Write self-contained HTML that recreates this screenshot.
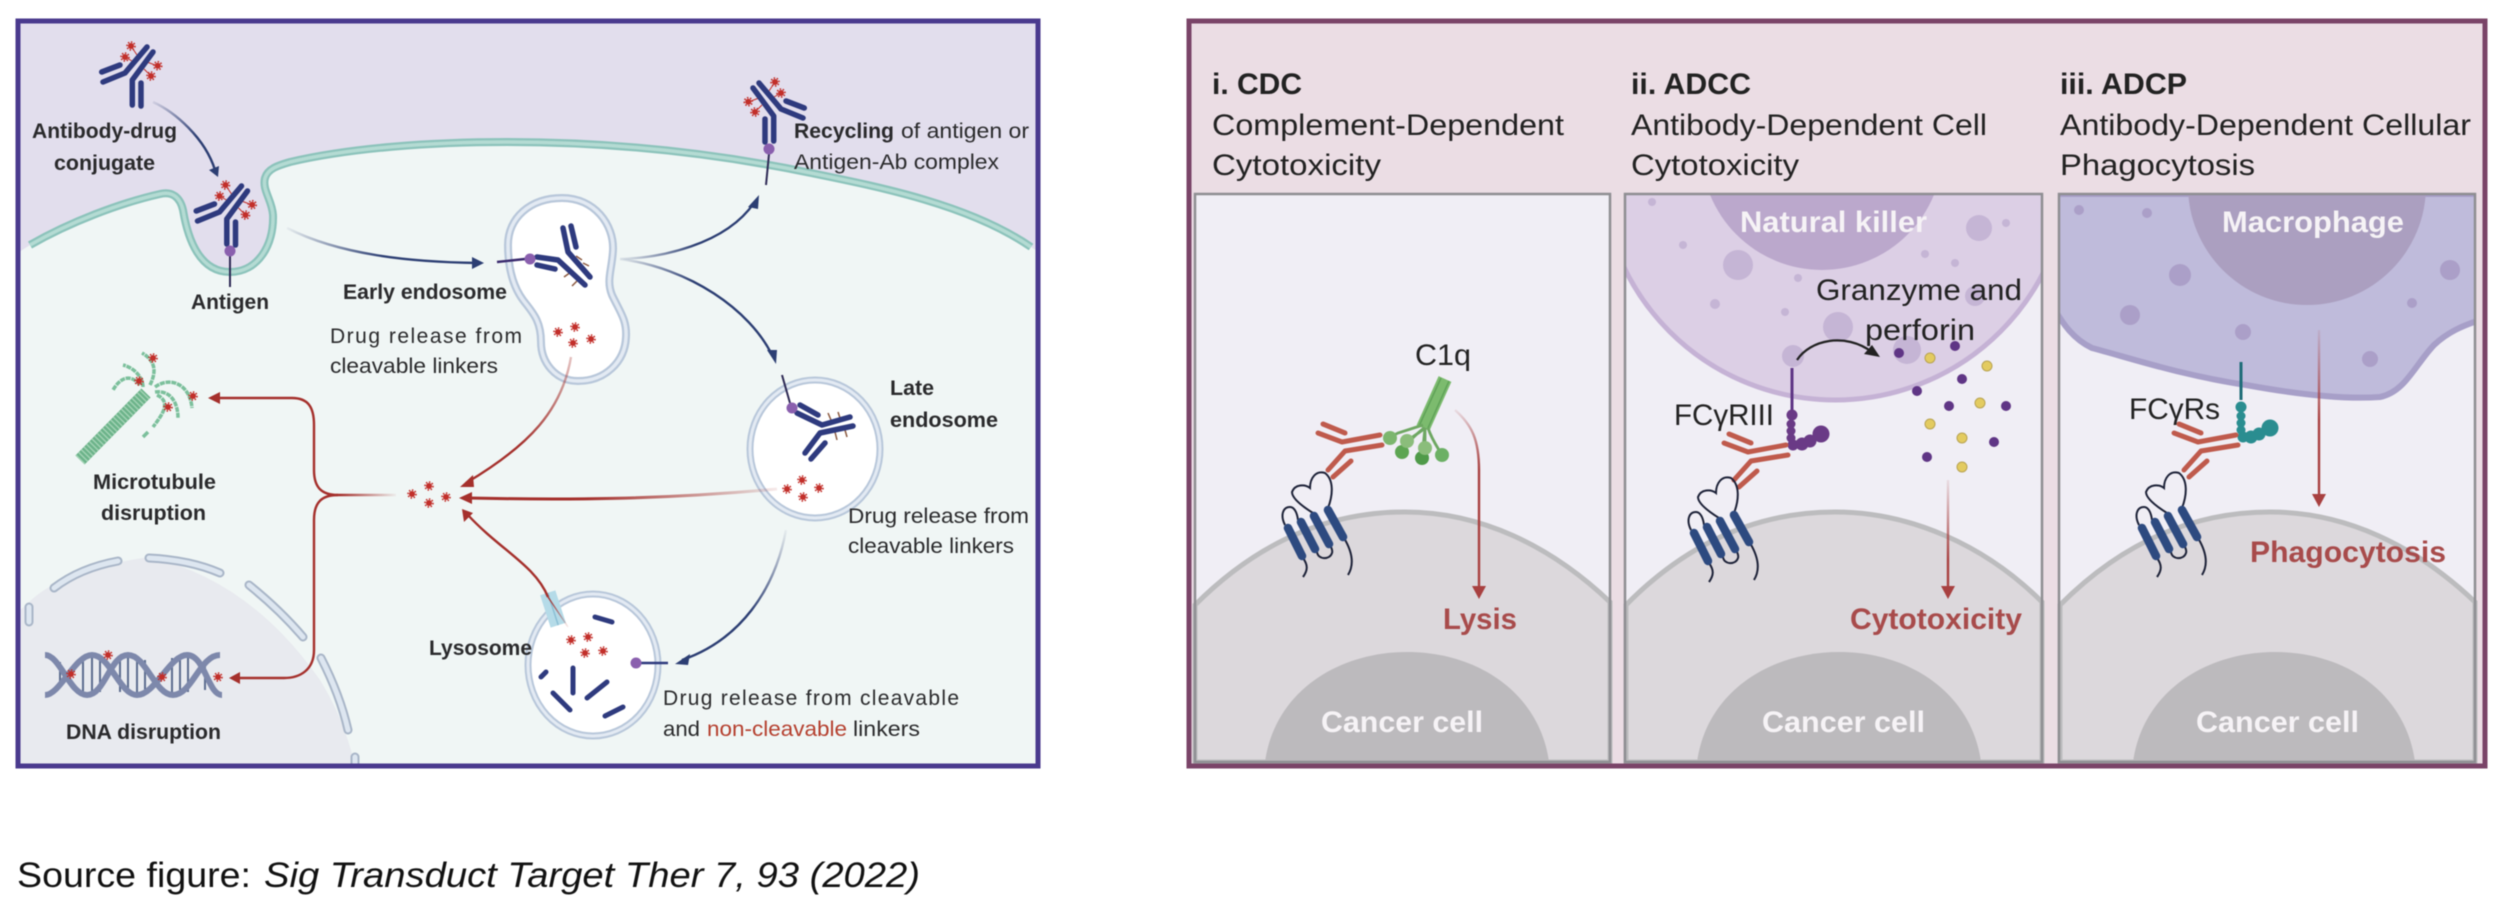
<!DOCTYPE html>
<html><head><meta charset="utf-8"><style>
html,body{margin:0;padding:0;background:#fff;width:2500px;height:920px;overflow:hidden}
svg{display:block;filter:blur(.4px)}
text{font-family:"Liberation Sans",sans-serif;fill:#2a2a2c}
.b{font-weight:700}
.l{font-size:21px}
.h{font-size:30px;fill:#222}
.w{font-size:30px;font-weight:700;fill:#f6f3f6}
.r{font-size:30px;font-weight:700;fill:#a84b4b}
</style></head><body>
<svg xmlns="http://www.w3.org/2000/svg" width="2500" height="920" viewBox="0 0 2500 920">
<defs>
<clipPath id="cl"><rect x="18" y="21" width="1020" height="745"/></clipPath>
<clipPath id="p2"><rect x="1625" y="194" width="417" height="568"/></clipPath>
<clipPath id="p3"><rect x="2059" y="194" width="416" height="568"/></clipPath>
<g id="ab" fill="none" stroke="#2e3a7e" stroke-width="5.5" stroke-linecap="round" stroke-linejoin="round">
<path d="M-34,2L-12,-7L10,-33"/>
<path d="M-4.7,25V0L16,-28"/>
<path d="M4,3V26"/>
<path d="M-35.3,-8L-17,-15"/>
</g>
<g id="dr"><circle r="3" fill="#c22f2a"/><circle r="4" fill="none" stroke="#c22f2a" stroke-width="1.6" stroke-dasharray="1.5 1.6"/></g>
<g id="drugs">
<path d="M-12,-23L-5,-19M-6,-34L2,-22M20.7,-14L10,-18M14,-4L7,-11" stroke="#c22f2a" stroke-width="1" fill="none"/>
<use href="#dr" x="-6" y="-34"/><use href="#dr" x="-12" y="-23"/><use href="#dr" x="20.7" y="-14.3"/><use href="#dr" x="14" y="-4"/></g>
<g id="adc"><use href="#drugs"/><use href="#ab"/></g>
<g id="red" fill="none" stroke="#bf5a4c" stroke-width="5" stroke-linecap="round" stroke-linejoin="round">
<path d="M1323,424L1345,433M1318,433L1342,442L1380,435M1382,445L1345,451L1328,470M1333,477L1351,461"/>
</g>
<g id="prot">
<path d="M1328,508C1333,495 1334,480 1325,473C1316,470 1310,478 1310,488C1305,484 1295,484 1292,492C1292,499 1305,508 1313,513M1285,525C1280,515 1283,507 1290,507C1294,507 1297,512 1298,520M1317,552C1318,560 1330,560 1332,553C1333,550 1331,547 1330,545M1303,558C1308,565 1308,570 1303,577M1344,538C1350,548 1356,562 1348,575" fill="none" stroke="#1d2238" stroke-width="2"/>
<g stroke="#2d4a80" stroke-width="8.5" stroke-linecap="round" fill="none">
<path d="M1288,528L1302,556M1301,522L1315,549M1314,516L1329,544M1328,510L1343,537"/>
</g></g>
<linearGradient id="g1" gradientUnits="userSpaceOnUse" x1="287" y1="228" x2="483" y2="263"><stop offset="0" stop-color="#2c3e73" stop-opacity=".05"/><stop offset=".5" stop-color="#2c3e73"/></linearGradient>
<linearGradient id="g2" gradientUnits="userSpaceOnUse" x1="620" y1="259" x2="757" y2="197"><stop offset="0" stop-color="#2c3e73" stop-opacity=".05"/><stop offset=".5" stop-color="#2c3e73"/></linearGradient>
<linearGradient id="g3" gradientUnits="userSpaceOnUse" x1="620" y1="259" x2="774" y2="362"><stop offset="0" stop-color="#2c3e73" stop-opacity=".05"/><stop offset=".4" stop-color="#2c3e73"/></linearGradient>
<linearGradient id="g4" gradientUnits="userSpaceOnUse" x1="786" y1="530" x2="676" y2="663"><stop offset="0" stop-color="#2c3e73" stop-opacity=".05"/><stop offset=".5" stop-color="#2c3e73"/></linearGradient>
<linearGradient id="g5" gradientUnits="userSpaceOnUse" x1="153" y1="102" x2="215" y2="170"><stop offset="0" stop-color="#2c3e73" stop-opacity=".1"/><stop offset=".6" stop-color="#2c3e73"/></linearGradient>
<linearGradient id="r1" gradientUnits="userSpaceOnUse" x1="571" y1="357" x2="463" y2="485"><stop offset="0" stop-color="#a5302c" stop-opacity=".3"/><stop offset=".6" stop-color="#a5302c"/></linearGradient>
<linearGradient id="r2" gradientUnits="userSpaceOnUse" x1="777" y1="490" x2="461" y2="498"><stop offset="0" stop-color="#a5302c" stop-opacity=".1"/><stop offset=".6" stop-color="#a5302c"/></linearGradient>
<linearGradient id="r3" gradientUnits="userSpaceOnUse" x1="396" y1="495" x2="340" y2="495"><stop offset="0" stop-color="#a5302c" stop-opacity=".05"/><stop offset="1" stop-color="#a5302c"/></linearGradient>
<linearGradient id="r4" gradientUnits="userSpaceOnUse" x1="1455" y1="410" x2="1479" y2="470"><stop offset="0" stop-color="#a84040" stop-opacity=".1"/><stop offset="1" stop-color="#a84040"/></linearGradient>
<linearGradient id="r5" gradientUnits="userSpaceOnUse" x1="0" y1="480" x2="0" y2="560"><stop offset="0" stop-color="#a84040" stop-opacity=".1"/><stop offset="1" stop-color="#a84040"/></linearGradient>
<linearGradient id="r6" gradientUnits="userSpaceOnUse" x1="0" y1="330" x2="0" y2="420"><stop offset="0" stop-color="#a84040" stop-opacity=".1"/><stop offset="1" stop-color="#a84040"/></linearGradient>
<linearGradient id="r7" gradientUnits="userSpaceOnUse" x1="568" y1="627" x2="548" y2="597"><stop offset="0" stop-color="#a5302c" stop-opacity=".1"/><stop offset="1" stop-color="#a5302c"/></linearGradient>
</defs>

<!-- LEFT PANEL -->
<rect x="16" y="21" width="1024" height="747" fill="#e2deed"/>
<g clip-path="url(#cl)">
<path d="M10,258L30,245C70,222 120,203 160,194C172,191 180,197 183,210C188,240 200,272 230,272C258,272 274,245 273,215C272,200 262,190 265,178C268,168 280,165 290,162C350,148 430,142 507,142C600,142 700,150 811,173C880,187 970,205 1031,247L1045,256V780H10Z" fill="#f0f6f5"/>
<path d="M27,604Q60,570 149,557Q250,580 320,680Q345,720 356,770H18V612Z" fill="#e8eaef"/>
<g fill="none" stroke-linecap="round">
<path d="M54,588Q80,568 118,561M149,558Q190,560 220,573M249,585Q280,610 303,637M321,658Q340,695 348,730M29,607V622M355,757V768" stroke="#a9b6c8" stroke-width="9"/>
<path d="M54,588Q80,568 118,561M149,558Q190,560 220,573M249,585Q280,610 303,637M321,658Q340,695 348,730M29,607V622M355,757V768" stroke="#dde6f0" stroke-width="5"/>
</g>
<path d="M30,245C70,222 120,203 160,194C172,191 180,197 183,210C188,240 200,272 230,272C258,272 274,245 273,215C272,200 262,190 265,178C268,168 280,165 290,162C350,148 430,142 507,142C600,142 700,150 811,173C880,187 970,205 1031,247" fill="none" stroke="#8cc3bb" stroke-width="8"/>
<path d="M30,245C70,222 120,203 160,194C172,191 180,197 183,210C188,240 200,272 230,272C258,272 274,245 273,215C272,200 262,190 265,178C268,168 280,165 290,162C350,148 430,142 507,142C600,142 700,150 811,173C880,187 970,205 1031,247" fill="none" stroke="#b4dbd3" stroke-width="3.5"/>
</g>
<rect x="18" y="21" width="1020" height="745" fill="none" stroke="#4a3a8e" stroke-width="5"/>

<!-- ADCs -->
<use href="#adc" x="137" y="80"/>
<path d="M230,256V287" stroke="#2e2a55" stroke-width="2"/>
<use href="#adc" x="231.5" y="219"/>
<circle cx="230" cy="251" r="5.5" fill="#8a5fae"/>
<path d="M769,154L766,185" stroke="#2e2a55" stroke-width="2"/>
<use href="#adc" transform="translate(769,116) scale(-1,1)"/>
<circle cx="769" cy="149" r="5.5" fill="#8a5fae"/>

<!-- dark arrows -->
<g fill="none" stroke-width="2.4">
<path d="M153,102C175,112 205,138 215,170" stroke="url(#g5)"/>
<path d="M287,228C340,255 410,262 478,263" stroke="url(#g1)"/>
<path d="M620,259C660,258 725,245 754,203" stroke="url(#g2)"/>
<path d="M620,259C690,268 750,310 772,355" stroke="url(#g3)"/>
<path d="M786,530C775,590 740,640 682,660" stroke="url(#g4)"/>
</g>
<g fill="#2c3e73">
<path d="M218,177L209,170L219,166Z"/>
<path d="M484,263L472,257V269Z"/>
<path d="M759,195L748,207L758,209Z"/>
<path d="M776,364L767,350L777,350Z"/>
<path d="M675,664L690,654L688,665Z"/>
</g>

<!-- early endosome -->
<path d="M562,198C595,198 614,225 613,250C612,270 606,280 612,295C620,312 627,320 626,337C625,362 605,381 578,381C555,381 541,362 541,342C541,320 532,312 523,300C512,285 508,265 508,245C508,218 530,198 562,198Z" fill="#fff" stroke="#b8c7da" stroke-width="8"/>
<path d="M562,198C595,198 614,225 613,250C612,270 606,280 612,295C620,312 627,320 626,337C625,362 605,381 578,381C555,381 541,362 541,342C541,320 532,312 523,300C512,285 508,265 508,245C508,218 530,198 562,198Z" fill="none" stroke="#e3eaf3" stroke-width="3.5"/>
<path d="M564,277L571,272M572,286L578,280M576,256L582,260M583,263L589,266" stroke="#8c5a40" stroke-width="1.5"/>
<path d="M563,228L568,252L590,277M571,226L576,247M537,257L558,260L585,285M537,265L555,269" fill="none" stroke="#2e3a7e" stroke-width="5.5" stroke-linecap="round" stroke-linejoin="round"/>
<path d="M497,262L525,259" stroke="#3a2a6e" stroke-width="2.4"/>
<circle cx="530" cy="259" r="5.5" fill="#8a5fae"/>
<use href="#dr" x="558" y="332"/><use href="#dr" x="575" y="327"/><use href="#dr" x="573" y="343"/><use href="#dr" x="591" y="339"/>

<!-- late endosome -->
<ellipse cx="815" cy="449" rx="65" ry="69" fill="#fff" stroke="#b8c7da" stroke-width="7"/>
<ellipse cx="815" cy="449" rx="65" ry="69" fill="none" stroke="#e3eaf3" stroke-width="3"/>
<path d="M782,375L790,403" stroke="#2e2a55" stroke-width="2"/>
<path d="M828,413L831,420M838,412L840,418M835,432L837,440M845,430L847,437" stroke="#8c5a40" stroke-width="1.5"/>
<path d="M800,405L818,415M797,413L822,425L850,417M853,426L820,433L805,453M825,443L811,459" fill="none" stroke="#2e3a7e" stroke-width="5.5" stroke-linecap="round" stroke-linejoin="round"/>
<circle cx="792" cy="408" r="5.5" fill="#8a5fae"/>
<use href="#dr" x="787" y="489"/><use href="#dr" x="802" y="480"/><use href="#dr" x="819" y="488"/><use href="#dr" x="803" y="497"/>

<!-- lysosome -->
<ellipse cx="593" cy="665" rx="65" ry="71" fill="#fff" stroke="#b8c7da" stroke-width="7"/>
<ellipse cx="593" cy="665" rx="65" ry="71" fill="none" stroke="#e3eaf3" stroke-width="3"/>
<g transform="translate(553,609) rotate(-18)"><rect x="-8" y="-17" width="16" height="34" fill="#b5dbe8"/><path d="M0,-17V17" stroke="#8cc0d5" stroke-width="1.5"/></g>
<g stroke="#2e3a7e" stroke-width="5" stroke-linecap="round">
<path d="M595,617L612,622M546,672L541,677M573,668V693M607,682L587,698M553,693L570,710M623,707L605,716"/>
</g>
<use href="#dr" x="571" y="640"/><use href="#dr" x="588" y="637"/><use href="#dr" x="585" y="653"/><use href="#dr" x="603" y="651"/>
<path d="M640,663H668" stroke="#2e3a7e" stroke-width="2.6"/>
<circle cx="636" cy="663" r="5.5" fill="#8a5fae"/>

<!-- red arrows -->
<g fill="none" stroke-width="2.4">
<path d="M571,357C562,410 530,445 466,483" stroke="url(#r1)"/>
<path d="M777,489C660,500 560,500 468,498" stroke="url(#r2)" stroke-width="3"/>
<path d="M548,597C535,565 500,550 467,514" stroke="#a5302c"/>
<path d="M568,627L548,597" stroke="url(#r7)" stroke-width="1.4"/>
<path d="M396,495H338" stroke="url(#r3)"/>
<path d="M338,495C322,495 314,488 314,470V425C314,407 308,398 292,398H216" stroke="#a5302c"/>
<path d="M338,495C322,495 314,502 314,520V650C314,670 300,678 284,678H238" stroke="#a5302c"/>
</g>
<g fill="#a5302c">
<path d="M460,487L473,475L474,487Z"/>
<path d="M459,498L472,492V504Z"/>
<path d="M462,509L473,513L464,522Z"/>
<path d="M208,398L220,392V404Z"/>
<path d="M229,678L240,672V684Z"/>
</g>
<use href="#dr" x="412" y="494"/><use href="#dr" x="429" y="486"/><use href="#dr" x="446" y="497"/><use href="#dr" x="429" y="503"/>

<!-- microtubule -->
<path d="M80,460L146,393" stroke="#6cb38a" stroke-width="13"/>
<path d="M80,460L146,393" stroke="#a3d3b5" stroke-width="13" stroke-dasharray="1.4 2.4"/>
<g fill="none" stroke="#7cc09c" stroke-width="3.5" stroke-dasharray="5 .8">
<path d="M143,387C143,378 135,368 123,365"/>
<path d="M150,385C155,375 158,362 142,353"/>
<path d="M140,385C130,373 120,378 113,390"/>
<path d="M155,387C170,376 190,384 192,408"/>
<path d="M155,392C170,390 178,402 178,418"/>
<path d="M157,395C172,402 162,415 153,427"/>
</g>
<path d="M148,432L143,437" stroke="#7cc09c" stroke-width="3.5"/>
<use href="#dr" x="153" y="358"/><use href="#dr" x="139" y="381"/><use href="#dr" x="193" y="396"/><use href="#dr" x="168" y="407"/>

<!-- DNA -->
<path d="M83,658V692M92,656V694M100,658V692M120,658V692M128,656V694M137,658V694M145,660V690M172,658V694M180,656V692M188,656V692M60,662V686M205,660V690" stroke="#5c6d8f" stroke-width="2"/>
<g fill="none" stroke="#7d88ab" stroke-width="6">
<path d="M45,655C60,655 70,695 87,695C105,695 110,655 128,655C146,655 155,695 173,695C192,695 200,655 220,655"/>
<path d="M45,695C60,695 75,655 92,655C110,655 120,695 137,695C155,695 170,655 187,655C205,655 208,695 222,695"/>
</g>
<use href="#dr" x="71" y="674"/><use href="#dr" x="108" y="655"/><use href="#dr" x="162" y="677"/><use href="#dr" x="218" y="677"/>

<!-- left labels -->
<g class="l">
<text class="b l" x="32" y="138" textLength="145" lengthAdjust="spacingAndGlyphs">Antibody-drug</text>
<text class="b l" x="54" y="170" textLength="101" lengthAdjust="spacingAndGlyphs">conjugate</text>
<text class="b l" x="191" y="309" textLength="78" lengthAdjust="spacingAndGlyphs">Antigen</text>
<text class="b l" x="343" y="299" textLength="164" lengthAdjust="spacingAndGlyphs">Early endosome</text>
<text class="l" x="330" y="343" textLength="192" lengthAdjust="spacing">Drug release from</text>
<text class="l" x="330" y="373" textLength="168" lengthAdjust="spacingAndGlyphs">cleavable linkers</text>
<text class="b l" x="794" y="138" textLength="100" lengthAdjust="spacingAndGlyphs">Recycling</text>
<text class="l" x="901" y="138" textLength="128" lengthAdjust="spacingAndGlyphs">of antigen or</text>
<text class="l" x="794" y="169" textLength="205" lengthAdjust="spacingAndGlyphs">Antigen-Ab complex</text>
<text class="b l" x="890" y="395" textLength="44" lengthAdjust="spacingAndGlyphs">Late</text>
<text class="b l" x="890" y="427" textLength="108" lengthAdjust="spacingAndGlyphs">endosome</text>
<text class="l" x="848" y="523" textLength="181" lengthAdjust="spacingAndGlyphs">Drug release from</text>
<text class="l" x="848" y="553" textLength="166" lengthAdjust="spacingAndGlyphs">cleavable linkers</text>
<text class="b l" x="429" y="655" textLength="103" lengthAdjust="spacingAndGlyphs">Lysosome</text>
<text class="l" x="663" y="705" textLength="296" lengthAdjust="spacing">Drug release from cleavable</text>
<text class="l" x="663" y="736" textLength="37" lengthAdjust="spacingAndGlyphs">and</text>
<text class="l" x="707" y="736" textLength="140" lengthAdjust="spacingAndGlyphs" style="fill:#b5402f">non-cleavable</text>
<text class="l" x="853" y="736" textLength="67" lengthAdjust="spacingAndGlyphs">linkers</text>
<text class="b l" x="93" y="489" textLength="123" lengthAdjust="spacingAndGlyphs">Microtubule</text>
<text class="b l" x="101" y="520" textLength="105" lengthAdjust="spacingAndGlyphs">disruption</text>
<text class="b l" x="66" y="739" textLength="155" lengthAdjust="spacingAndGlyphs">DNA disruption</text>
</g>

<!-- source -->
<text x="17" y="887" font-size="35" style="fill:#111" textLength="234" lengthAdjust="spacingAndGlyphs">Source figure:</text>
<text x="264" y="887" font-size="35" font-style="italic" style="fill:#111" textLength="656" lengthAdjust="spacingAndGlyphs">Sig Transduct Target Ther 7, 93 (2022)</text>

<!-- RIGHT FRAME -->
<rect x="1189" y="21" width="1296" height="745" fill="#ebdde4" stroke="#7a4468" stroke-width="5"/>
<g class="h">
<text class="b h" x="1212" y="94" textLength="90" lengthAdjust="spacingAndGlyphs">i. CDC</text>
<text class="h" x="1212" y="135" textLength="352" lengthAdjust="spacingAndGlyphs">Complement-Dependent</text>
<text class="h" x="1212" y="175" textLength="169" lengthAdjust="spacingAndGlyphs">Cytotoxicity</text>
<text class="b h" x="1631" y="94" textLength="120" lengthAdjust="spacingAndGlyphs">ii. ADCC</text>
<text class="h" x="1631" y="135" textLength="356" lengthAdjust="spacingAndGlyphs">Antibody-Dependent Cell</text>
<text class="h" x="1631" y="175" textLength="168" lengthAdjust="spacingAndGlyphs">Cytotoxicity</text>
<text class="b h" x="2060" y="94" textLength="127" lengthAdjust="spacingAndGlyphs">iii. ADCP</text>
<text class="h" x="2060" y="135" textLength="411" lengthAdjust="spacingAndGlyphs">Antibody-Dependent Cellular</text>
<text class="h" x="2060" y="175" textLength="195" lengthAdjust="spacingAndGlyphs">Phagocytosis</text>
</g>

<!-- panels -->
<g fill="#f0eef5">
<rect x="1195" y="194" width="415" height="568"/>
<rect x="1625" y="194" width="417" height="568"/>
<rect x="2059" y="194" width="416" height="568"/>
</g>

<!-- cancer cells -->
<g fill="#dcd8dc" stroke="#bcbcbe" stroke-width="5">
<path d="M1195,605C1260,540 1330,512 1405,512C1480,512 1550,545 1610,602V762H1195Z"/>
<path d="M1626,605C1690,540 1760,512 1835,512C1910,512 1985,545 2042,602V762H1626Z"/>
<path d="M2060,605C2125,540 2195,512 2270,512C2345,512 2415,545 2475,602V762H2060Z"/>
</g>
<g fill="#bcbabd">
<path d="M1265,762C1275,690 1340,652 1407,652C1480,652 1540,695 1549,762Z"/>
<path d="M1697,762C1707,690 1772,652 1839,652C1912,652 1972,695 1981,762Z"/>
<path d="M2133,762C2143,690 2208,652 2275,652C2348,652 2406,695 2415,762Z"/>
</g>
<text class="w" x="1321" y="732" textLength="162" lengthAdjust="spacingAndGlyphs">Cancer cell</text>
<text class="w" x="1762" y="732" textLength="163" lengthAdjust="spacingAndGlyphs">Cancer cell</text>
<text class="w" x="2196" y="732" textLength="163" lengthAdjust="spacingAndGlyphs">Cancer cell</text>

<!-- NK cell -->
<g clip-path="url(#p2)">
<circle cx="1835" cy="166" r="234" fill="#dccfe5" stroke="#c5b2d5" stroke-width="5"/>
<circle cx="1822" cy="149" r="121" fill="#bba8cc"/>
<g fill="#c5b5d5">
<circle cx="1652" cy="202" r="4"/><circle cx="1683" cy="245" r="4"/><circle cx="1738" cy="265" r="15"/><circle cx="1715" cy="304" r="5"/><circle cx="1798" cy="278" r="4"/><circle cx="1785" cy="312" r="4"/><circle cx="1838" cy="327" r="15"/><circle cx="1793" cy="356" r="11"/><circle cx="1979" cy="228" r="13"/><circle cx="2006" cy="223" r="4"/><circle cx="1925" cy="254" r="4"/><circle cx="1955" cy="263" r="4"/><circle cx="1907" cy="350" r="14"/><circle cx="1975" cy="296" r="10"/>
</g>
</g>
<text class="w" x="1740" y="232" textLength="187" lengthAdjust="spacingAndGlyphs">Natural killer</text>
<text class="h" x="1816" y="300" textLength="206" lengthAdjust="spacingAndGlyphs">Granzyme and</text>
<text class="h" x="1865" y="340" textLength="110" lengthAdjust="spacingAndGlyphs">perforin</text>
<path d="M1797,360C1810,340 1845,332 1872,352" fill="none" stroke="#222" stroke-width="2.2"/>
<path d="M1880,357L1864,354L1872,345Z" fill="#222"/>
<g>
<g fill="#5f3585"><circle cx="1899" cy="353" r="5"/><circle cx="1955" cy="346" r="5"/><circle cx="1917" cy="391" r="5"/><circle cx="1962" cy="379" r="5"/><circle cx="1949" cy="406" r="5"/><circle cx="2006" cy="406" r="5"/><circle cx="1994" cy="442" r="5"/><circle cx="1927" cy="457" r="5"/></g>
<g fill="#e3cb60" stroke="#b8a352"><circle cx="1930" cy="358" r="5"/><circle cx="1987" cy="366" r="5"/><circle cx="1980" cy="403" r="5"/><circle cx="1930" cy="424" r="5"/><circle cx="1962" cy="438" r="5"/><circle cx="1962" cy="467" r="5"/></g>
</g>
<path d="M1792,368V410" stroke="#5f3585" stroke-width="3"/>
<g fill="#6a3a86"><circle cx="1792" cy="415" r="5.5"/><circle cx="1791" cy="424" r="4.5"/><circle cx="1791" cy="431" r="4.5"/><circle cx="1791" cy="438" r="4.5"/><circle cx="1793" cy="445" r="5.5"/><circle cx="1802" cy="444" r="6.5"/><circle cx="1810" cy="441" r="6.5"/><circle cx="1821" cy="434" r="8.5"/></g>

<!-- Macrophage -->
<g clip-path="url(#p3)">
<path d="M2050,194V300C2062,325 2075,340 2092,348C2130,358 2180,375 2246,385C2290,393 2340,400 2380,397C2405,392 2415,365 2434,345C2448,332 2462,326 2480,320V194Z" fill="#bfbbdb" stroke="#a79fc8" stroke-width="6"/>
<circle cx="2307" cy="186" r="119" fill="#ab9fc0"/>
<g fill="#ab9fc8"><circle cx="2079" cy="210" r="5"/><circle cx="2147" cy="213" r="5"/><circle cx="2180" cy="275" r="11"/><circle cx="2130" cy="315" r="10"/><circle cx="2243" cy="332" r="8"/><circle cx="2370" cy="359" r="8"/><circle cx="2412" cy="303" r="5"/><circle cx="2450" cy="270" r="10"/></g>
</g>
<text class="w" x="2222" y="232" textLength="182" lengthAdjust="spacingAndGlyphs">Macrophage</text>
<path d="M2241,362V400" stroke="#1f6d78" stroke-width="3"/>
<g fill="#2a8d90"><circle cx="2241" cy="407" r="5.5"/><circle cx="2241" cy="416" r="4.5"/><circle cx="2241" cy="423" r="4.5"/><circle cx="2241" cy="430" r="4.5"/><circle cx="2243" cy="437" r="5.5"/><circle cx="2251" cy="437" r="6.5"/><circle cx="2259" cy="434" r="6.5"/><circle cx="2270" cy="428" r="8.5"/></g>

<!-- panel 1 C1q -->
<path d="M1445,379L1423,428" stroke="#7cbb6e" stroke-width="14"/>
<path d="M1441,378L1419,426M1449,381L1428,428" stroke="#5fa258" stroke-width="1.5"/>
<g fill="none" stroke="#6ea762" stroke-width="2.8">
<path d="M1423,425L1398,433L1390,437M1425,428C1418,434 1410,438 1407,441M1424,428C1414,436 1406,444 1402,452M1425,428V448M1425,428L1422,458M1428,428C1432,440 1438,448 1442,455"/>
</g>
<circle cx="1390" cy="438" r="7" fill="#7cb66e"/><circle cx="1402" cy="452" r="7" fill="#5da552"/><circle cx="1407" cy="441" r="7" fill="#8bbd7b"/><circle cx="1422" cy="458" r="7" fill="#4f9a49"/><circle cx="1425" cy="448" r="7" fill="#8bbd7b"/><circle cx="1442" cy="455" r="7" fill="#6cb065"/>
<text class="h" x="1415" y="365" textLength="56" lengthAdjust="spacingAndGlyphs">C1q</text>

<!-- antibodies & proteins -->
<use href="#red"/>
<use href="#prot"/>
<use href="#red" x="406" y="10"/>
<use href="#prot" x="406" y="5"/>
<use href="#red" x="856" y="0"/>
<use href="#prot" x="854" y="0"/>

<text class="h" x="1674" y="425" textLength="100" lengthAdjust="spacingAndGlyphs">FCγRIII</text>
<text class="h" x="2129" y="419" textLength="91" lengthAdjust="spacingAndGlyphs">FCγRs</text>

<!-- red arrows right -->
<g fill="none" stroke-width="2.4">
<path d="M1455,410C1472,425 1479,440 1479,470V590" stroke="url(#r4)"/>
<path d="M1948,480V590" stroke="url(#r5)"/>
<path d="M2319,330V498" stroke="url(#r6)"/>
</g>
<g fill="#a84040">
<path d="M1479,599L1472,586H1486Z"/>
<path d="M1948,599L1941,586H1955Z"/>
<path d="M2319,507L2312,494H2326Z"/>
</g>
<text class="r" x="1443" y="629" textLength="74" lengthAdjust="spacingAndGlyphs">Lysis</text>
<text class="r" x="1850" y="629" textLength="172" lengthAdjust="spacingAndGlyphs">Cytotoxicity</text>
<text class="r" x="2250" y="562" textLength="196" lengthAdjust="spacingAndGlyphs">Phagocytosis</text>

<!-- panel borders -->
<g fill="none" stroke="#8e8e92" stroke-width="2.5">
<rect x="1195" y="194" width="415" height="568"/>
<rect x="1625" y="194" width="417" height="568"/>
<rect x="2059" y="194" width="416" height="568"/>
</g>
<rect x="1189" y="21" width="1296" height="745" fill="none" stroke="#7a4468" stroke-width="5"/>
</svg>
</body></html>
